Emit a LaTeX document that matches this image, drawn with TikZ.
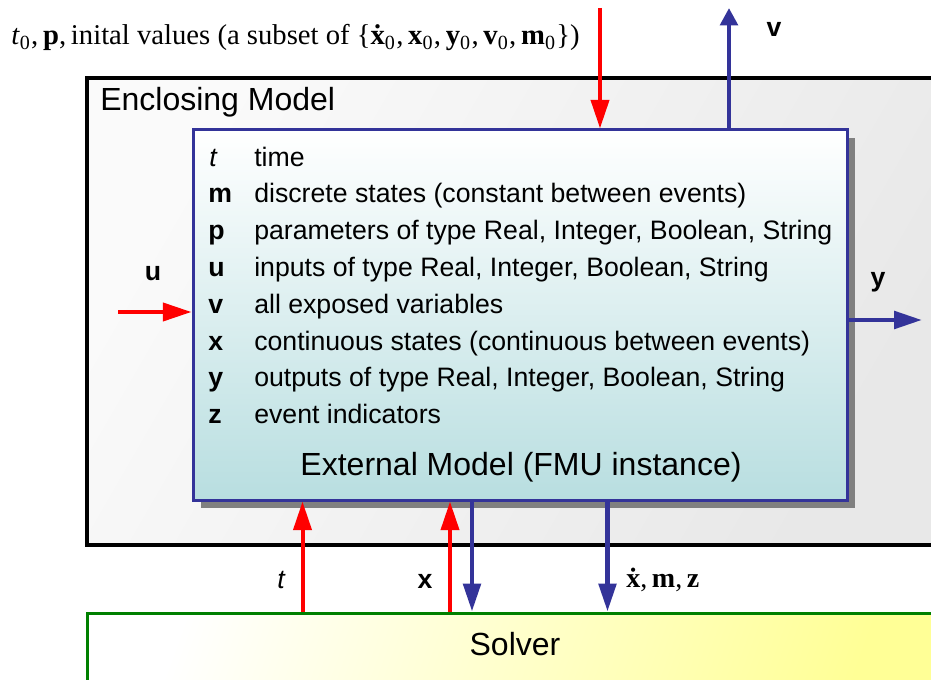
\documentclass[tikz,border=0pt]{standalone}
\usepackage{fontspec}
\setmainfont{Liberation Serif}
\setsansfont{Liberation Sans}
\usetikzlibrary{arrows.meta,shadows}
\definecolor{fmublue}{RGB}{51,51,153}
\definecolor{solvergreen}{RGB}{0,128,0}
\definecolor{fmubot}{RGB}{184,222,224}
\definecolor{solveryel}{RGB}{255,255,150}
\definecolor{enclgray}{RGB}{232,232,232}
\definecolor{shadowgray}{RGB}{128,128,128}
\newcommand{\subz}{\textsubscript{0}\kern0.5pt}
\begin{document}
\begin{tikzpicture}[x=0.75pt,y=-0.75pt,
  redarr/.style={draw=red, line width=3pt, -{Triangle[length=21.5pt,width=13.5pt]}},
  bluearr/.style={draw=fmublue, line width=3.4pt, -{Triangle[length=21pt,width=13pt]}},
  blueshort/.style={draw=fmublue, line width=3.4pt, -{Triangle[length=13pt,width=13pt]}},
  enclbox/.style={draw=black, line width=3pt, left color=white!98!black, right color=enclgray, shading angle=60, minimum width=643.5pt, minimum height=350.25pt, inner sep=0},
  fmubox/.style={draw=fmublue, line width=2.25pt, top color=white, bottom color=fmubot, minimum width=490.5pt, minimum height=277.5pt, inner sep=0,
    drop shadow={shadow xshift=6pt, shadow yshift=-6pt, fill=shadowgray, opacity=1}},
  solverbox/.style={draw=solvergreen, line width=2.25pt, left color=white, right color=solveryel, shading angle=70, minimum width=643.5pt, minimum height=65.25pt, inner sep=0},
  listtxt/.style={font=\sffamily\fontsize{20}{24}\selectfont, anchor=base west, inner sep=0},
  bigtxt/.style={font=\sffamily\fontsize{24}{28}\selectfont, inner sep=0},
  lbl/.style={font=\sffamily\bfseries\fontsize{20}{24}\selectfont, anchor=base, inner sep=0},
  sertxt/.style={font=\fontsize{21.5}{25}\selectfont, inner sep=0}
]
\useasboundingbox (0,0) rectangle (931,680);
\clip (0,0) rectangle (931,680);
\fill[white] (0,0) rectangle (931,680);

% boxes
\node[enclbox] (encl) at (516,311.5) {};
\node[bigtxt, anchor=base west] (encltxt) at (100,111) {Enclosing Model};
\node[fmubox] (fmu) at (520,315) {};
\node[solverbox] (solver) at (516,656.5) {};
\node[bigtxt, anchor=base] (solvertxt) at (515,655) {Solver};

% list
\node[listtxt] (s1) at (209,167) {\itshape t};
\node[listtxt] (d1) at (254,167) {time};
\node[listtxt] (s2) at (208,203) {\bfseries m};
\node[listtxt] (d2) at (254,203) {discrete states (constant between events)};
\node[listtxt] (s3) at (208,240) {\bfseries p};
\node[listtxt] (d3) at (254,240) {parameters of type Real, Integer, Boolean, String};
\node[listtxt] (s4) at (208,277) {\bfseries u};
\node[listtxt] (d4) at (254,277) {inputs of type Real, Integer, Boolean, String};
\node[listtxt] (s5) at (208,314) {\bfseries v};
\node[listtxt] (d5) at (254,314) {all exposed variables};
\node[listtxt] (s6) at (208,351) {\bfseries x};
\node[listtxt] (d6) at (254,351) {continuous states (continuous between events)};
\node[listtxt] (s7) at (208,387) {\bfseries y};
\node[listtxt] (d7) at (254,387) {outputs of type Real, Integer, Boolean, String};
\node[listtxt] (s8) at (208,424) {\bfseries z};
\node[listtxt] (d8) at (254,424) {event indicators};
\node[bigtxt, anchor=base] (fmutxt) at (521,475) {External Model (FMU instance)};

% top text
\node[sertxt, anchor=base west] (toptxt) at (11,45) {\textit{t}\subz,\,\textbf{p},\,inital values (a subset of \{\textbf{\.x}\subz,\,\textbf{x}\subz,\,\textbf{y}\subz,\,\textbf{v}\subz,\,\textbf{m}\subz\})};

% coordinates
\coordinate (tin) at (600,8);
\coordinate (vout) at (729,8);
\coordinate (uin) at (118,312);
\coordinate (yout) at (922,320);
\coordinate (tx) at (302.5,0);
\coordinate (xx) at (450,0);
\coordinate (xo) at (472,0);
\coordinate (dx) at (607.5,0);

% arrows
\draw[redarr] (tin) -- (tin |- fmu.north);
\draw[blueshort] (vout |- fmu.north) -- (vout);
\draw[redarr] (uin) -- (uin -| fmu.west);
\draw[bluearr] (yout -| fmu.east) -- (yout);
\draw[redarr] (tx |- solver.north) -- (tx |- fmu.south);
\draw[redarr] (xx |- solver.north) -- (xx |- fmu.south);
\draw[bluearr] (xo |- fmu.south) -- (xo |- solver.north);
\draw[bluearr] (dx |- fmu.south) -- (dx |- solver.north);

% labels
\node[lbl] (lv) at (774,37) {v};
\node[lbl] (lu) at (153,281) {u};
\node[lbl] (ly) at (878,287) {y};
\node[lbl, font=\sffamily\itshape\fontsize{20}{24}\selectfont] (lt) at (281,588) {t};
\node[lbl] (lx) at (425,588) {x};
\node[sertxt, font=\fontsize{21}{25}\selectfont, anchor=base west] (ldx) at (626,587) {\textbf{\.x},\,\textbf{m},\,\textbf{z}};
\end{tikzpicture}
\end{document}
